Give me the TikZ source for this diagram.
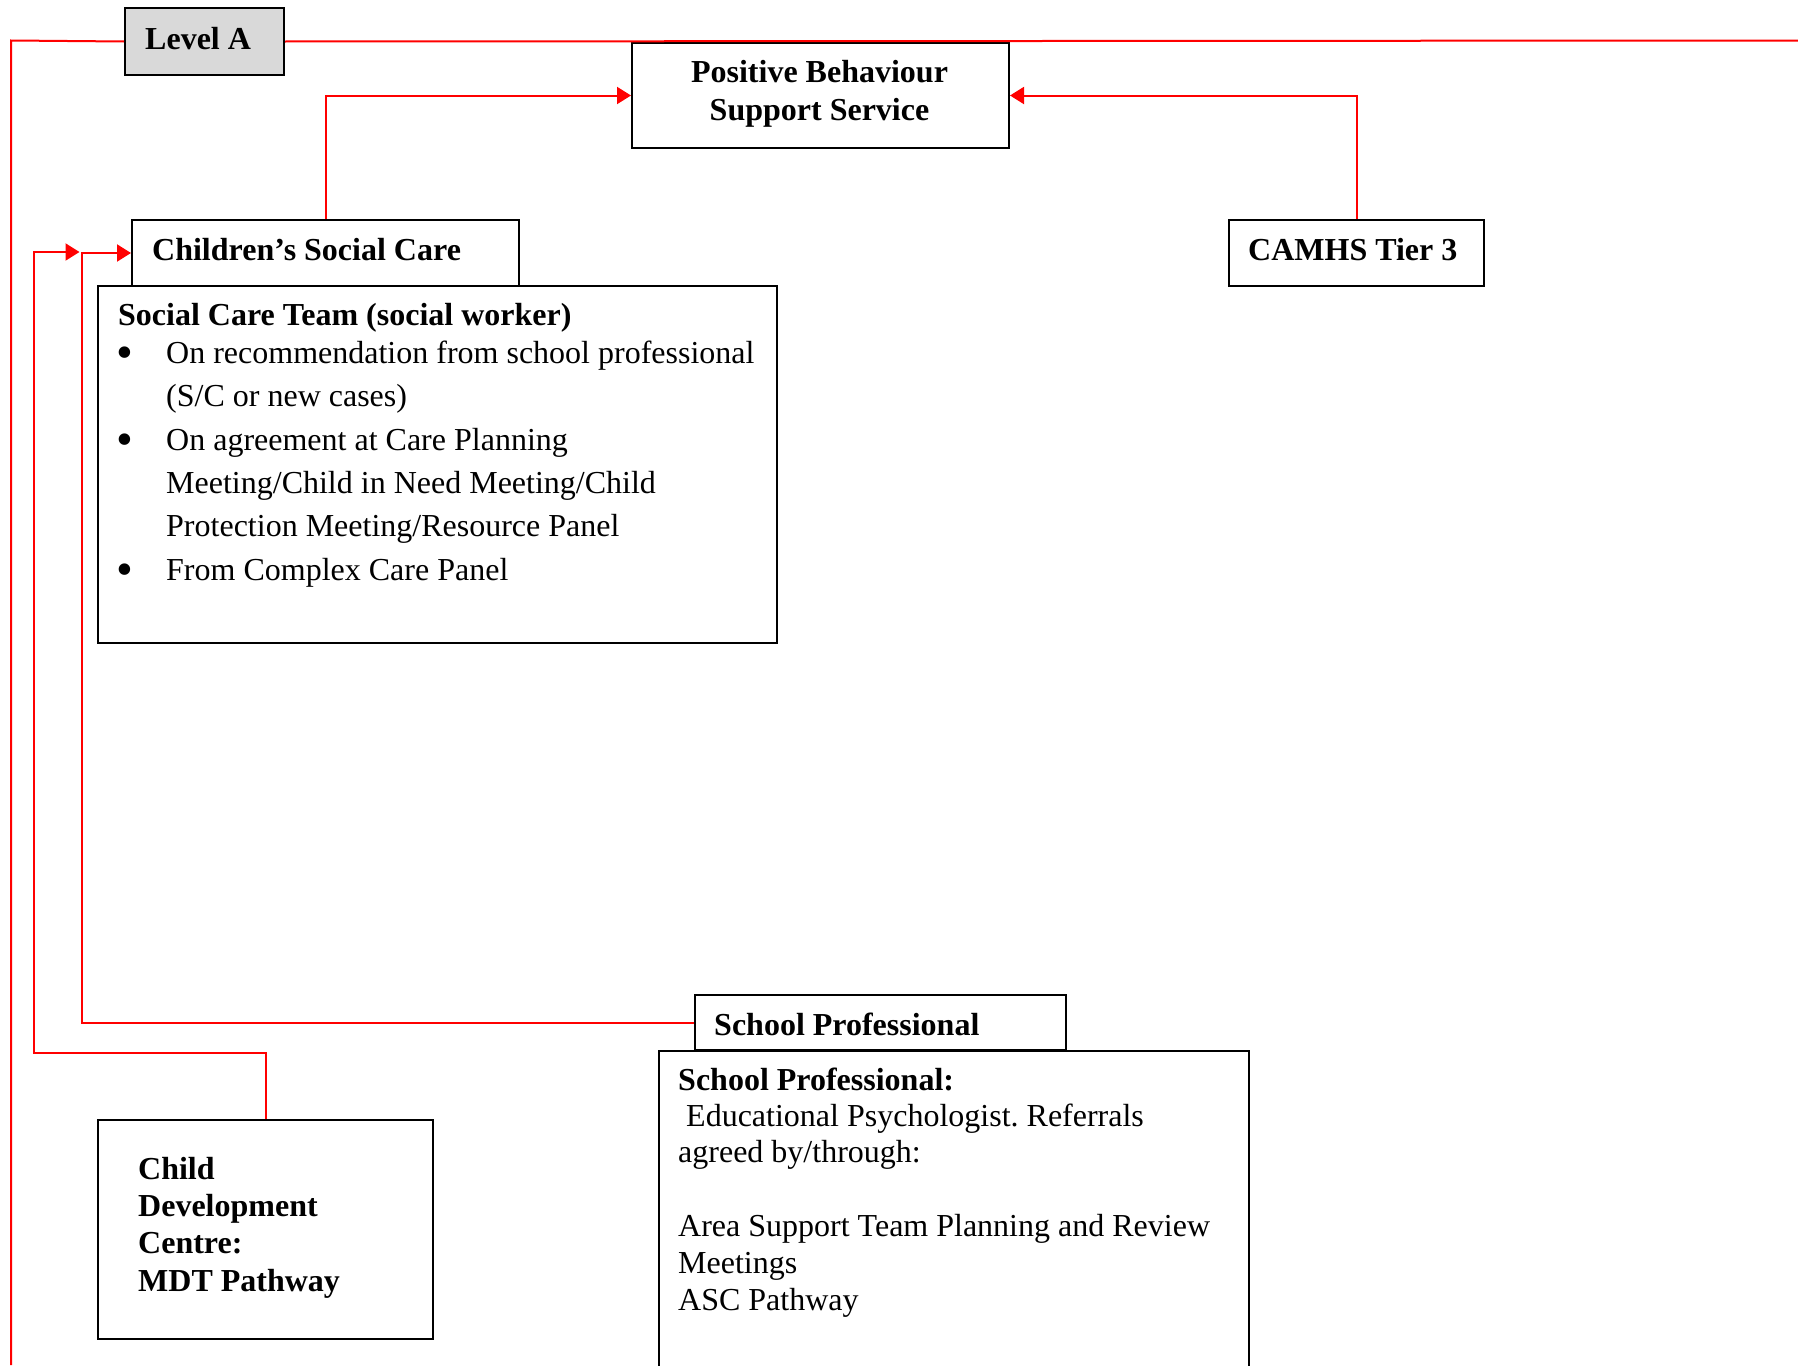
\documentclass[tikz,border=0pt]{standalone}
\usepackage{fontspec}
\setmainfont{Liberation Serif}
\usetikzlibrary{arrows.meta}
\frenchspacing
\tikzset{
  box/.style={draw=black, line width=2pt, inner sep=0pt, anchor=north west},
  txt/.style={inner sep=0pt, anchor=base west, font=\fontsize{32}{37}\selectfont\frenchspacing},
  btxt/.style={txt, font=\fontsize{32}{37}\selectfont\bfseries},
  bul/.style={inner sep=0pt, anchor=base west, font=\fontsize{48}{48}\selectfont},
  link/.style={draw=red, line width=2pt},
  arr/.style={link, -{Triangle[length=14pt,width=17pt]}},
}
\begin{document}
\begin{tikzpicture}[x=1pt,y=-1pt]
\path[use as bounding box] (0,0) rectangle (1798,1365);

% boxes
\node[box, fill=gray!30, minimum width=159pt, minimum height=67pt] (levA) at (124,7) {};
\node[box, minimum width=377pt, minimum height=105pt] (pbss) at (631,42) {};
\node[box, minimum width=679pt, minimum height=357pt] (sct) at (97,285) {};
\node[box, minimum width=387pt, minimum height=66pt] (csc) at (131,219) {};
\node[box, minimum width=255pt, minimum height=66pt] (camhs) at (1228,219) {};
\node[box, minimum width=590pt, minimum height=340pt] (spbody) at (658,1050) {};
\node[box, minimum width=371pt, minimum height=55pt] (sptab) at (694,994) {};
\node[box, minimum width=335pt, minimum height=219pt] (cdc) at (97,1119) {};

% coordinates for free ends / bends
\coordinate (tl) at (11,40.5);
\coordinate (bl) at (11,1365);
\coordinate (tr) at (1798,40.5);
\coordinate (inx) at (82,0);
\coordinate (outc) at (34,1052.5);
\coordinate (tipO) at (79.5,252);

% connectors
\draw[link] (levA.west) -- (tl) -- (bl);
\draw[link] (levA.east) -- (tr);
\draw[arr] (csc.north) |- (pbss.west);
\draw[arr] (camhs.north) |- (pbss.east);
\draw[arr] (sptab.west) -| (inx |- csc.west) -- (csc.west);
\draw[arr] (cdc.north) |- (outc) |- (tipO);

% texts
\node[btxt] (tLevA) at (145,49.5) {Level A};
\node[btxt, anchor=base] (tPb1) at (819.5,82) {Positive Behaviour};
\node[btxt, anchor=base] (tPb2) at (819.5,120) {Support Service};
\node[btxt] (tCsc) at (152,260) {Children’s Social Care};
\node[btxt] (tCamhs) at (1248,260) {CAMHS Tier 3};

\node[btxt] (tSct) at (118,325) {Social Care Team (social worker)};
\node[bul] (b1) at (116,368) {•};
\node[txt] (s1) at (166,363) {On recommendation from school professional};
\node[txt] (s2) at (166,406.5) {(S/C or new cases)};
\node[bul] (b2) at (116,455) {•};
\node[txt] (s3) at (166,450) {On agreement at Care Planning};
\node[txt] (s4) at (166,493) {Meeting/Child in Need Meeting/Child};
\node[txt] (s5) at (166,536.5) {Protection Meeting/Resource Panel};
\node[bul] (b3) at (116,585) {•};
\node[txt] (s6) at (166,580) {From Complex Care Panel};

\node[btxt] (tSpTab) at (714,1035) {School Professional};
\node[btxt] (tSpHead) at (678,1090) {School Professional:};
\node[txt] (p1) at (686,1126) {Educational Psychologist. Referrals};
\node[txt] (p2) at (678,1162) {agreed by/through:};
\node[txt] (p3) at (678,1236) {Area Support Team Planning and Review};
\node[txt] (p4) at (678,1273) {Meetings};
\node[txt] (p5) at (678,1310) {ASC Pathway};

\node[btxt] (c1) at (138,1179) {Child};
\node[btxt] (c2) at (138,1216) {Development};
\node[btxt] (c3) at (138,1253) {Centre:};
\node[btxt] (c4) at (138,1291) {MDT Pathway};
\end{tikzpicture}
\end{document}
